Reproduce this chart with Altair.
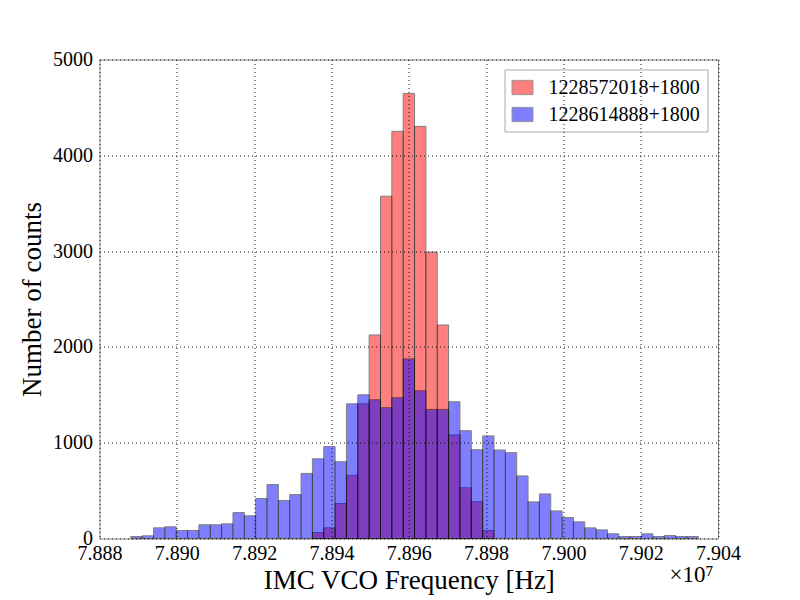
import altair as alt
import pandas as pd

# histogram of IMC VCO frequency, two 1800 s segments, shared bins (units of 1e7 Hz)
bin_start = 7.88881
bin_width = 0.0002936
n_bins = 50

series_names = ["1228572018+1800", "1228614888+1800"]
series_colors = ["#ff0000", "#0000ff"]

# counts per bin
red_counts = [0, 0, 0, 0, 0, 0, 0, 0, 0, 0,
              0, 0, 0, 0, 0, 0, 63, 111, 365, 660,
              1406, 2125, 3573, 4250, 4646, 4302, 2990, 2229, 1081, 530,
              384, 84, 0, 0, 0, 0, 0, 0, 0, 0,
              0, 0, 0, 0, 0, 0, 0, 0, 0, 0]
blue_counts = [21, 28, 111, 122, 84, 84, 143, 143, 153, 271,
               237, 418, 564, 397, 459, 679, 832, 960, 801, 1406,
               1500, 1448, 1365, 1469, 1875, 1542, 1347, 1347, 1428, 1125,
               927, 1071, 924, 896, 653, 382, 465, 288, 219, 174,
               111, 90, 49, 21, 21, 49, 21, 31, 21, 21]

x_ticks = [7.888, 7.890, 7.892, 7.894, 7.896, 7.898, 7.900, 7.902, 7.904]
y_ticks = [0, 1000, 2000, 3000, 4000, 5000]

rows = []
for name, counts in zip(series_names, [red_counts, blue_counts]):
    for i, c in enumerate(counts):
        if c > 0:
            rows.append({"series": name,
                         "x0": bin_start + i * bin_width,
                         "x1": bin_start + (i + 1) * bin_width,
                         "count": c,
                         "base": 0})
df = pd.DataFrame(rows)

FONT = "Liberation Serif"

bars = alt.Chart(df).mark_bar(opacity=0.5, stroke="black", strokeWidth=1).encode(
    alt.X("x0:Q", title="IMC VCO Frequency [Hz]",
          scale=alt.Scale(domain=[7.888, 7.904], nice=False, zero=False),
          axis=alt.Axis(values=x_ticks, format=".3f", grid=True, ticks=False, domain=False,
                        labelFontSize=20, labelPadding=5, titleFontSize=27, titlePadding=4,
                        titleFontWeight="normal", zindex=1, labelFlush=False)),
    alt.X2("x1:Q"),
    alt.Y("count:Q", title="Number of counts",
          scale=alt.Scale(domain=[0, 5000], nice=False),
          axis=alt.Axis(values=y_ticks, format="d", grid=True, ticks=False, domain=False,
                        labelFontSize=20, labelPadding=7, titleFontSize=27, titlePadding=6,
                        titleFontWeight="normal", zindex=1)),
    alt.Y2("base:Q"),
    alt.Color("series:N", title=None,
              scale=alt.Scale(domain=series_names, range=series_colors),
              legend=alt.Legend(orient="none", legendX=405, legendY=10,
                                symbolType="M-1,-0.68H1V0.68H-1Z", symbolSize=441,
                                symbolOpacity=0.5, symbolStrokeColor="#333",
                                symbolStrokeWidth=1, labelFontSize=20, labelOffset=15,
                                rowPadding=6, padding=7, strokeColor="#aaaaaa",
                                fillColor="white", labelLimit=300)),
)

offset_df = pd.DataFrame({"t": ["×10⁷"]})
offset_text = alt.Chart(offset_df).mark_text(
    font=FONT, fontSize=23, align="center", baseline="middle"
).encode(text="t:N", x=alt.value(592), y=alt.value(515))

chart = alt.layer(bars, offset_text).properties(
    width=618.5, height=479,
    autosize=alt.AutoSizeParams(type="none"),
    padding={"left": 91.5, "top": 51.5, "right": 74, "bottom": 60},
    background="white",
).configure(font=FONT).configure_axis(
    gridColor="black", gridDash=[1, 3], gridOpacity=0.9, gridWidth=1,
    labelColor="black", titleColor="black", labelFont=FONT, titleFont=FONT,
).configure_view(stroke="#888888", strokeWidth=1).configure_legend(
    labelFont=FONT, labelColor="black"
)

chart.save("out.html", embed_options={"renderer": "svg", "actions": False})
